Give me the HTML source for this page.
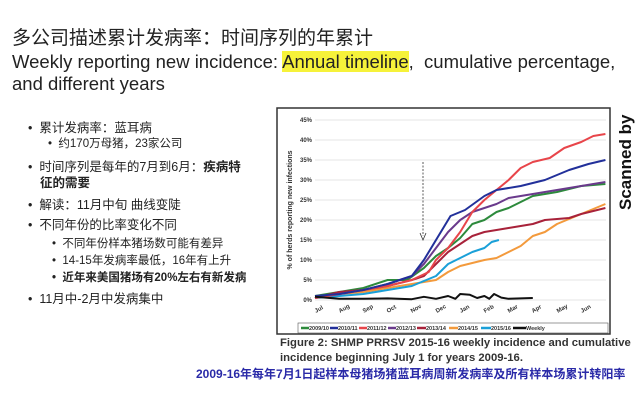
<!DOCTYPE html><html><head><meta charset="utf-8"><style>
body{margin:0;width:640px;height:408px;background:#fff;overflow:hidden;position:relative;font-family:"Liberation Sans","Noto Sans CJK SC",sans-serif;color:#222}
.t{position:absolute;left:12px;white-space:nowrap;line-height:1.15}
.b{position:absolute;font-size:12.5px;white-space:nowrap;line-height:1.2}
</style></head><body>
<div class="t" style="top:28px;font-size:19px">多公司描述累计发病率：时间序列的年累计</div>
<div class="t" style="top:51px;font-size:18.5px">Weekly reporting new incidence: <span style="background:#f6f23a">Annual timeline</span>,&nbsp; cumulative percentage,</div>
<div class="t" style="top:73px;font-size:18.5px">and different years</div>
<div class="b" style="left:28px;top:121px">•&nbsp; 累计发病率：蓝耳病</div>
<div class="b" style="left:48px;top:138px;font-size:11.5px">•&nbsp; 约170万母猪，23家公司</div>
<div class="b" style="left:28px;top:160px">•&nbsp; 时间序列是每年的7月到6月：<b>疾病特</b></div>
<div class="b" style="left:40px;top:176px"><b>征的需要</b></div>
<div class="b" style="left:28px;top:198px">•&nbsp; 解读：11月中旬 曲线变陡</div>
<div class="b" style="left:28px;top:218px">•&nbsp; 不同年份的比率变化不同</div>
<div class="b" style="left:52px;top:238px;font-size:11.5px">•&nbsp; 不同年份样本猪场数可能有差异</div>
<div class="b" style="left:52px;top:255px;font-size:11.5px">•&nbsp; 14-15年发病率最低，16年有上升</div>
<div class="b" style="left:52px;top:272px;font-size:11.5px"><b>•&nbsp; 近年来美国猪场有20%左右有新发病</b></div>
<div class="b" style="left:28px;top:292px">•&nbsp; 11月中-2月中发病集中</div>
<svg style="position:absolute;left:0;top:0" width="640" height="408">
<rect x="277" y="108" width="333" height="226" fill="#fff" stroke="#333" stroke-width="1.5"/>
<g stroke="#ddd" stroke-width="0.8">
<line x1="315" x2="606" y1="120" y2="120"/><line x1="315" x2="606" y1="140" y2="140"/><line x1="315" x2="606" y1="160" y2="160"/><line x1="315" x2="606" y1="180" y2="180"/><line x1="315" x2="606" y1="200" y2="200"/><line x1="315" x2="606" y1="220" y2="220"/><line x1="315" x2="606" y1="240" y2="240"/><line x1="315" x2="606" y1="260" y2="260"/><line x1="315" x2="606" y1="280" y2="280"/><line x1="315" x2="606" y1="300" y2="300"/></g>
<g font-size="6" font-weight="bold" text-anchor="end" fill="#333">
<text x="312" y="122">45%</text><text x="312" y="142">40%</text><text x="312" y="162">35%</text><text x="312" y="182">30%</text><text x="312" y="202">25%</text><text x="312" y="222">20%</text><text x="312" y="242">15%</text><text x="312" y="262">10%</text><text x="312" y="282">5%</text><text x="312" y="302">0%</text></g>
<text transform="translate(292,210) rotate(-90)" font-size="7" font-weight="bold" text-anchor="middle" fill="#333">% of herds reporting new infections</text>
<g font-size="6" font-weight="bold" fill="#333">
<text transform="translate(316,313) rotate(-30)">Jul</text><text transform="translate(340,313) rotate(-30)">Aug</text><text transform="translate(364,313) rotate(-30)">Sep</text><text transform="translate(388,313) rotate(-30)">Oct</text><text transform="translate(412,313) rotate(-30)">Nov</text><text transform="translate(437,313) rotate(-30)">Dec</text><text transform="translate(461,313) rotate(-30)">Jan</text><text transform="translate(485,313) rotate(-30)">Feb</text><text transform="translate(509,313) rotate(-30)">Mar</text><text transform="translate(533,313) rotate(-30)">Apr</text><text transform="translate(558,313) rotate(-30)">May</text><text transform="translate(582,313) rotate(-30)">Jun</text></g>
<line x1="423" y1="162" x2="423" y2="236" stroke="#333" stroke-dasharray="2,1.5" stroke-width="0.8"/>
<path d="M420,233 L423,240 L426,233" fill="none" stroke="#333" stroke-width="0.8"/>
<g transform="translate(315,300) scale(24.2,-4)" fill="none" stroke-width="2" stroke-linejoin="round">
<polyline vector-effect="non-scaling-stroke" stroke="#f39a3c" points="0,0.5 1,1.5 2,2 3,3 4,4 5,5 5.5,7 6,8.5 7,10 7.5,10.5 8,12 8.5,13.5 9,16 9.5,17 10,19 11,21.5 12,24"/>
<polyline vector-effect="non-scaling-stroke" stroke="#1aa0d8" points="0,0.5 1,1 2,1.5 3,2.5 4,3.5 5,6 5.5,9 6,10.5 6.5,12 7,13 7.3,14.5 7.6,15"/>
<polyline vector-effect="non-scaling-stroke" stroke="#2d8a3c" points="0,1 1,2 2,3 3,5 3.8,5 4.5,8 5,11 5.5,13 6,15.5 6.5,19 7,20 7.5,22 8,23 9,26 10,27 11,28.5 12,29"/>
<polyline vector-effect="non-scaling-stroke" stroke="#a8223a" points="0,0.5 1,2 2,2.5 3,3.5 4,5 4.5,6 5,9 5.5,12 6,14 6.5,16 7,17 8,18 9,19 9.5,20 10.5,20.5 11,21.5 12,23"/>
<polyline vector-effect="non-scaling-stroke" stroke="#6a3a8c" points="0,0.5 1,1.5 2,2.5 3,4 4,6 4.5,9 5,13 5.5,17 6,20 6.5,22 7.5,24 8,25.5 9,26.5 10,27.5 11,28.5 12,29.5"/>
<polyline vector-effect="non-scaling-stroke" stroke="#e8454a" points="0,0.5 1,1.5 2,2.5 3,3.5 4,5 4.7,7 5,10 5.5,13 6,17 6.5,22 7,25 7.5,27.5 8,30 8.5,33 9,34.5 9.7,35.5 10.3,38 11,39.5 11.5,41 12,41.5"/>
<polyline vector-effect="non-scaling-stroke" stroke="#22309a" points="0,1 1,1.5 2,2.5 3,4 4,6 4.5,10 5,15 5.6,21 6.2,22.5 7,26 7.5,27.5 8.5,28.5 9.5,30 10.5,32.5 11.3,34 12,35"/>
<polyline vector-effect="non-scaling-stroke" stroke="#111" points="0,0.8 1,0.3 2,0.3 3,0.4 4,0.2 4.5,0.8 5,0.3 5.5,1 5.8,0.3 6,1.5 6.4,1.3 6.7,0.5 7,1 7.2,0.3 7.4,1.5 7.7,0.6 8,0.3 8.5,0.4 9,0.5"/>
</g>
<rect x="298" y="323" width="310" height="10" fill="#fff" stroke="#555" stroke-width="0.6"/>
<g font-size="5.5" font-weight="bold" fill="#333" stroke-width="2.5">
<line x1="301" x2="309" y1="328" y2="328" stroke="#2d8a3c"/><text x="309" y="330">2009/10</text>
<line x1="330" x2="338" y1="328" y2="328" stroke="#22309a"/><text x="338" y="330">2010/11</text>
<line x1="359" x2="367" y1="328" y2="328" stroke="#e8454a"/><text x="367" y="330">2011/12</text>
<line x1="388" x2="396" y1="328" y2="328" stroke="#6a3a8c"/><text x="396" y="330">2012/13</text>
<line x1="417" x2="426" y1="328" y2="328" stroke="#a8223a"/><text x="426" y="330">2013/14</text>
<line x1="449" x2="458" y1="328" y2="328" stroke="#f39a3c"/><text x="458" y="330">2014/15</text>
<line x1="481" x2="491" y1="328" y2="328" stroke="#1aa0d8"/><text x="491" y="330">2015/16</text>
<line x1="513" x2="526" y1="328" y2="328" stroke="#111"/><text x="526" y="330">Weekly</text></g>
<text transform="translate(631,210) rotate(-90)" font-size="17" font-weight="bold" fill="#111">Scanned by</text>
</svg>
<div class="b" style="left:280px;top:337px;font-size:11.3px;font-weight:bold;color:#333">Figure 2: SHMP PRRSV 2015-16 weekly incidence and cumulative</div>
<div class="b" style="left:280px;top:352px;font-size:11.3px;font-weight:bold;color:#333">incidence beginning July 1 for years 2009-16.</div>
<div class="b" style="left:196px;top:367px;font-size:12px;color:#2a2aa8;font-weight:bold">2009-16年每年7月1日起样本母猪场猪蓝耳病周新发病率及所有样本场累计转阳率</div>
</body></html>
